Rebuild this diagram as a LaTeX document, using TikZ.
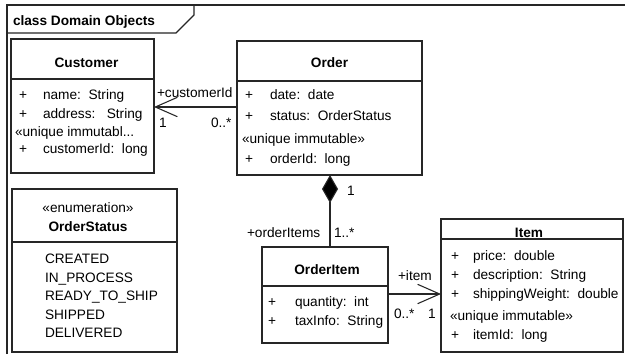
\documentclass[tikz,border=0pt]{standalone}
\usepackage{fontspec}
\setmainfont{Liberation Sans}
\usetikzlibrary{arrows.meta,fit}
\begin{document}
\begin{tikzpicture}[x=0.75pt,y=-0.75pt,
  every node/.style={font=\fontsize{10.25}{12}\selectfont, inner sep=0pt, outer sep=0pt},
  classbox/.style={draw=black!85, line width=0.8pt, inner sep=0pt, fit={#1}},
  sepline/.style={draw=black!85, line width=0.8pt},
  txt/.style={anchor=base west},
  ttl/.style={anchor=base, font=\fontsize{10.25}{12}\selectfont\bfseries},
  assoc/.style={draw=black!85, line width=0.8pt},
  navarrow/.style={-{Straight Barb[length=16.5pt,width=14.5pt,line width=0.8pt]}},
  comp/.style={{Diamond[length=21pt,width=12pt,fill=black]}-}
]
\useasboundingbox (0,0) rectangle (625,354);
\fill[white] (0,0) rectangle (625,354);

% frame
\draw[line width=0.9pt, black!85] (7,354) -- (7,5) -- (625,5);
\draw[line width=0.9pt, black!85] (7,33) -- (176,33) -- (194,15) -- (194,5);
\node[ttl, anchor=base west] (frameTitle) at (13,25) {class Domain Objects};

% Customer
\node[classbox={(11,39) (154,173)}] (cust) {};
\draw[sepline] (11,79) -- (154,79);
\node[ttl] (custT) at (86.5,67) {Customer};
\node[txt] (c1p) at (19,99) {+};
\node[txt] (c1) at (43,99) {name:\ \ String};
\node[txt] (c2p) at (19,118) {+};
\node[txt] (c2) at (43,118) {address:\ \ \ String};
\node[txt] (c3) at (15,136) {«unique immutabl...};
\node[txt] (c4p) at (19,153) {+};
\node[txt] (c4) at (43,153) {customerId:\ \ long};

% Order
\node[classbox={(237,41) (422,175)}] (ord) {};
\draw[sepline] (237,81) -- (422,81);
\node[ttl] (ordT) at (329.5,67) {Order};
\node[txt] (o1p) at (245,99) {+};
\node[txt] (o1) at (270,99) {date:\ \ date};
\node[txt] (o2p) at (245,120) {+};
\node[txt] (o2) at (270,120) {status:\ \ OrderStatus};
\node[txt] (o3) at (242,143) {«unique immutable»};
\node[txt] (o4p) at (245,163) {+};
\node[txt] (o4) at (270,163) {orderId:\ \ long};

% OrderStatus
\node[classbox={(12,189) (177,352)}] (os) {};
\draw[sepline] (12,242) -- (177,242);
\node[anchor=base] (osS) at (88,212) {«enumeration»};
\node[ttl] (osT) at (88,231) {OrderStatus};
\node[txt] (os1) at (45,263) {CREATED};
\node[txt] (os2) at (45,282) {IN\_PROCESS};
\node[txt] (os3) at (45,300) {READY\_TO\_SHIP};
\node[txt] (os4) at (45,319) {SHIPPED};
\node[txt] (os5) at (45,337) {DELIVERED};

% OrderItem
\node[classbox={(262,247) (388,343)}] (oi) {};
\draw[sepline] (262,286) -- (388,286);
\node[ttl] (oiT) at (327,274) {OrderItem};
\node[txt] (oi1p) at (268,306) {+};
\node[txt] (oi1) at (295,306) {quantity:\ \ int};
\node[txt] (oi2p) at (268,325) {+};
\node[txt] (oi2) at (295,325) {taxInfo:\ \ String};

% Item
\node[classbox={(441,219) (623,352)}] (item) {};
\draw[sepline] (441,239) -- (623,239);
\node[ttl] (itemT) at (529,237) {Item};
\node[txt] (i1p) at (451,260) {+};
\node[txt] (i1) at (473,260) {price:\ \ double};
\node[txt] (i2p) at (451,279) {+};
\node[txt] (i2) at (473,279) {description:\ \ String};
\node[txt] (i3p) at (451,298) {+};
\node[txt] (i3) at (473,298) {shippingWeight:\ \ double};
\node[txt] (i4) at (450,320) {«unique immutable»};
\node[txt] (i5p) at (451,339) {+};
\node[txt] (i5) at (473,339) {itemId:\ \ long};

% Order -> Customer
\coordinate (coA) at (ord.west |- 0,107);
\draw[assoc, navarrow] (coA) -- (cust.east |- coA);
\node[txt] (lCust) at (157,97) {+customerId};
\node[txt] (lC1) at (159,127) {1};
\node[txt] (lC2) at (211,127) {0..*};

% Order <>-- OrderItem
\coordinate (dTop) at (330,175);
\draw[assoc, comp] (dTop) -- (oi.north -| dTop);
\node[txt] (lD1) at (347,195) {1};
\node[txt] (lOI) at (247,237) {+orderItems};
\node[txt] (lOI2) at (334,237) {1..*};

% OrderItem -> Item
\coordinate (oiA) at (oi.east |- 0,294);
\draw[assoc, navarrow] (oiA) -- (item.west |- oiA);
\node[txt] (lIt) at (398,280) {+item};
\node[txt] (lI1) at (394,318) {0..*};
\node[txt] (lI2) at (428,318) {1};
\end{tikzpicture}
\end{document}
